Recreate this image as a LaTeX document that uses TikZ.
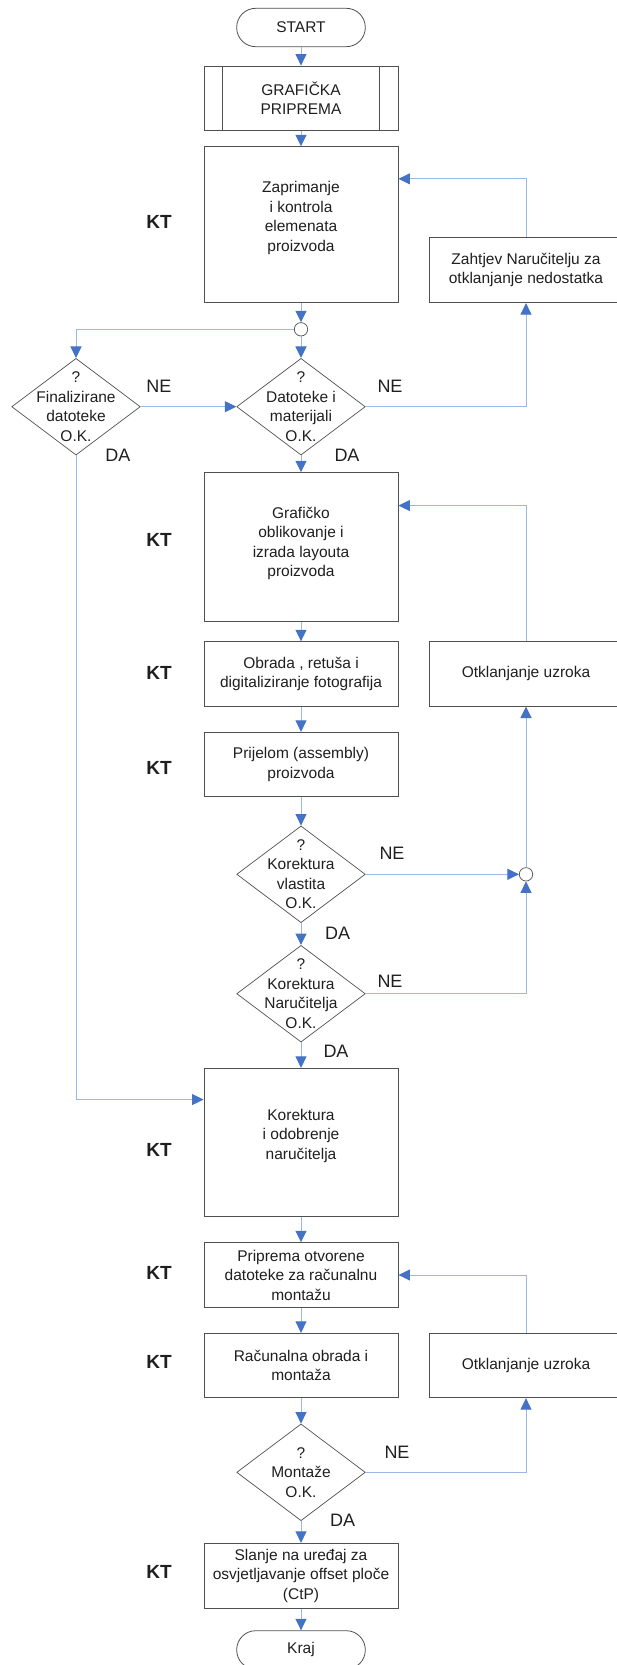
\documentclass[tikz,border=0pt]{standalone}
\usepackage{fontspec}
\setmainfont{Liberation Sans}
\usepackage{xcolor}
\usepackage{tikz}
\usetikzlibrary{shapes.geometric,arrows.meta}

\definecolor{flowblue}{HTML}{9BB8E2}
\definecolor{tipblue}{HTML}{4472C4}
\definecolor{boxgray}{HTML}{505050}
\definecolor{txtgray}{HTML}{1F1F1F}

\begin{document}
\begin{tikzpicture}[x=1pt,y=-1pt,
    every node/.style={text=txtgray,font=\fontsize{15.5}{19.5}\selectfont},
    box/.style={draw=boxgray,line width=0.9pt,minimum width=194pt,inner sep=0pt,align=center},
    tallbox/.style={box,text depth=17pt},
    boxline/.style={draw=boxgray,line width=0.9pt},
    term/.style={draw=boxgray,line width=0.8pt,rounded corners=19pt,minimum width=128.6pt,minimum height=38.4pt,inner sep=0pt},
    decis/.style={diamond,draw=boxgray,line width=0.7pt,minimum width=128.6pt,minimum height=96.7pt,inner sep=0pt},
    dtxt/.style={align=center,inner sep=0pt},
    joint/.style={circle,draw=boxgray,line width=0.7pt,fill=white,minimum size=13.4pt,inner sep=0pt},
    kt/.style={font=\fontsize{19}{22}\selectfont\bfseries},
    yn/.style={font=\fontsize{18}{21}\selectfont},
    flow/.style={draw=flowblue,line width=1pt,-{Triangle[length=11.5pt,width=11pt,color=tipblue]}}]
    \useasboundingbox (0,0) rectangle (616,1665);

    \node[term] (start) at (301,27.5) {START};
    \node[box,minimum height=64.7pt] (graf) at (301,98.4) {GRAFIČKA\\PRIPREMA};
    \draw[boxline] ([xshift=19pt]graf.north west) -- ([xshift=19pt]graf.south west);
    \draw[boxline] ([xshift=-19pt]graf.north east) -- ([xshift=-19pt]graf.south east);
    \node[tallbox,minimum height=156pt] (zapr) at (301,224.7) {Zaprimanje\\i kontrola\\elemenata\\proizvoda};
    \node[box,minimum height=65.4pt] (zahtjev) at (526,270) {Zahtjev Naručitelju za\\otklanjanje nedostatka};
    \node[joint] (c1) at (301,329.3) {};
    \node[decis,label={[dtxt]center:{?\\Finalizirane\\datoteke\\O.K.}}] (finale) at (76,406.7) {};
    \node[decis,label={[dtxt]center:{?\\Datoteke i\\materijali\\O.K.}}] (datot) at (301,406.7) {};
    \node[tallbox,text depth=11pt,minimum height=149pt] (oblik) at (301,547.2) {Grafičko\\oblikovanje i\\izrada layouta\\proizvoda};
    \node[box,minimum height=64.3pt] (obrada) at (301,673.9) {Obrada , retuša i\\digitaliziranje fotografija};
    \node[box,minimum height=64.3pt] (otkl1) at (526,673.9) {Otklanjanje uzroka};
    \node[box,minimum height=64.4pt] (prijelom) at (301,764.5) {Prijelom (assembly)\\proizvoda};
    \node[decis,label={[dtxt]center:{?\\Korektura\\vlastita\\O.K.}}] (korvl) at (301,874.3) {};
    \node[joint] (c2) at (526,874.3) {};
    \node[decis,label={[dtxt]center:{?\\Korektura\\Naručitelja\\O.K.}}] (kornar) at (301,993.7) {};
    \node[tallbox,minimum height=148.4pt] (korodob) at (301,1142.5) {Korektura\\i odobrenje\\naručitelja};
    \node[box,minimum height=64.6pt] (priprema) at (301,1275) {Priprema otvorene\\datoteke za računalnu\\montažu};
    \node[box,minimum height=64.4pt] (racun) at (301,1365.5) {Računalna obrada i\\montaža};
    \node[box,minimum height=64.4pt] (otkl2) at (526,1365.5) {Otklanjanje uzroka};
    \node[decis,label={[dtxt]center:{?\\Montaže\\O.K.}}] (montaze) at (301,1472.3) {};
    \node[box,minimum height=65pt] (slanje) at (301,1575.8) {Slanje na uređaj za\\osvjetljavanje offset ploče\\(CtP)};
    \node[term] (kraj) at (301,1649.9) {Kraj};

    \node[kt] (kt1) at (159,221.7) {KT};
    \node[kt] (kt2) at (159,540) {KT};
    \node[kt] (kt3) at (159,673.3) {KT};
    \node[kt] (kt4) at (159,767.7) {KT};
    \node[kt] (kt5) at (159,1150) {KT};
    \node[kt] (kt6) at (159,1272.7) {KT};
    \node[kt] (kt7) at (159,1361.7) {KT};
    \node[kt] (kt8) at (159,1571.7) {KT};

    \node[yn] (ne1) at (159,386.7) {NE};
    \node[yn] (da1) at (118,455) {DA};
    \node[yn] (ne2) at (390,386.7) {NE};
    \node[yn] (da2) at (347,455) {DA};
    \node[yn] (ne3) at (392,853.3) {NE};
    \node[yn] (da3) at (337.7,933.3) {DA};
    \node[yn] (ne4) at (390,981.7) {NE};
    \node[yn] (da4) at (336,1051.7) {DA};
    \node[yn] (ne5) at (397,1452.3) {NE};
    \node[yn] (da5) at (342.7,1520.7) {DA};

    \coordinate (zapr-in) at ([yshift=-32.6pt]zapr.north east);
    \coordinate (oblik-in) at ([yshift=-33.3pt]oblik.north east);
    \coordinate (korodob-in) at ([yshift=-31.7pt]korodob.north west);

    \draw[flow] (start) -- (graf);
    \draw[flow] (graf) -- (zapr);
    \draw[flow] (zapr) -- (c1);
    \draw[flow] (c1) -- (datot);
    \draw[flow] (c1) -| (finale);
    \draw[flow] (finale) -- (datot);
    \draw[flow] (datot) -| (zahtjev);
    \draw[flow] (zahtjev) |- (zapr-in);
    \draw[flow] (datot) -- (oblik);
    \draw[flow] (finale) |- (korodob-in);
    \draw[flow] (oblik) -- (obrada);
    \draw[flow] (obrada) -- (prijelom);
    \draw[flow] (prijelom) -- (korvl);
    \draw[flow] (korvl) -- (c2);
    \draw[flow] (korvl) -- (kornar);
    \draw[flow] (kornar) -| (c2);
    \draw[flow] (c2) -- (otkl1);
    \draw[flow] (otkl1) |- (oblik-in);
    \draw[flow] (kornar) -- (korodob);
    \draw[flow] (korodob) -- (priprema);
    \draw[flow] (priprema) -- (racun);
    \draw[flow] (racun) -- (montaze);
    \draw[flow] (montaze) -| (otkl2);
    \draw[flow] (otkl2) |- (priprema);
    \draw[flow] (montaze) -- (slanje);
    \draw[flow] (slanje) -- (kraj);
\end{tikzpicture}
\end{document}
